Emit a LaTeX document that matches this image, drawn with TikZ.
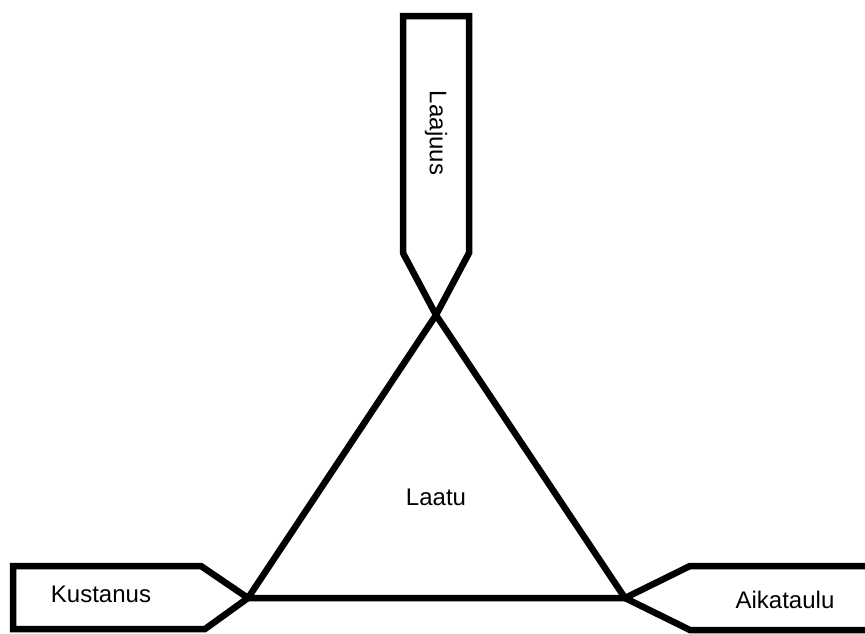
\documentclass[tikz,border=0pt]{standalone}
\usepackage{fontspec}
\setmainfont{Liberation Sans}
\begin{document}
\begin{tikzpicture}[x=1pt, y=-1pt, line width=6.5pt,
    label/.style={font=\fontsize{24}{28}\selectfont}]
    \useasboundingbox (0,0) rectangle (865,633);
    % corners of the triangle
    \coordinate (top) at (436,315);
    \coordinate (left) at (248,598);
    \coordinate (right) at (625,598);
    % the three boxes pointing at the corners
    \draw (top) -- (403,253) -- (403,16) -- (469,16) -- (469,253) -- (top);
    \draw (left) -- (201,566) -- (13,566) -- (13,629) -- (205,629) -- (left);
    \draw (right) -- (690,566) -- (870,566);
    \draw (right) -- (690,630) -- (870,630);
    \draw (top) -- (left) -- (right) -- cycle;
    \node[label, rotate=-90] (scope) at (436,133) {Laajuus};
    \node[label] (cost) at (101,594) {Kustanus};
    \node[label] (time) at (785,600) {Aikataulu};
    \node[label] (quality) at (436,497) {Laatu};
\end{tikzpicture}
\end{document}
